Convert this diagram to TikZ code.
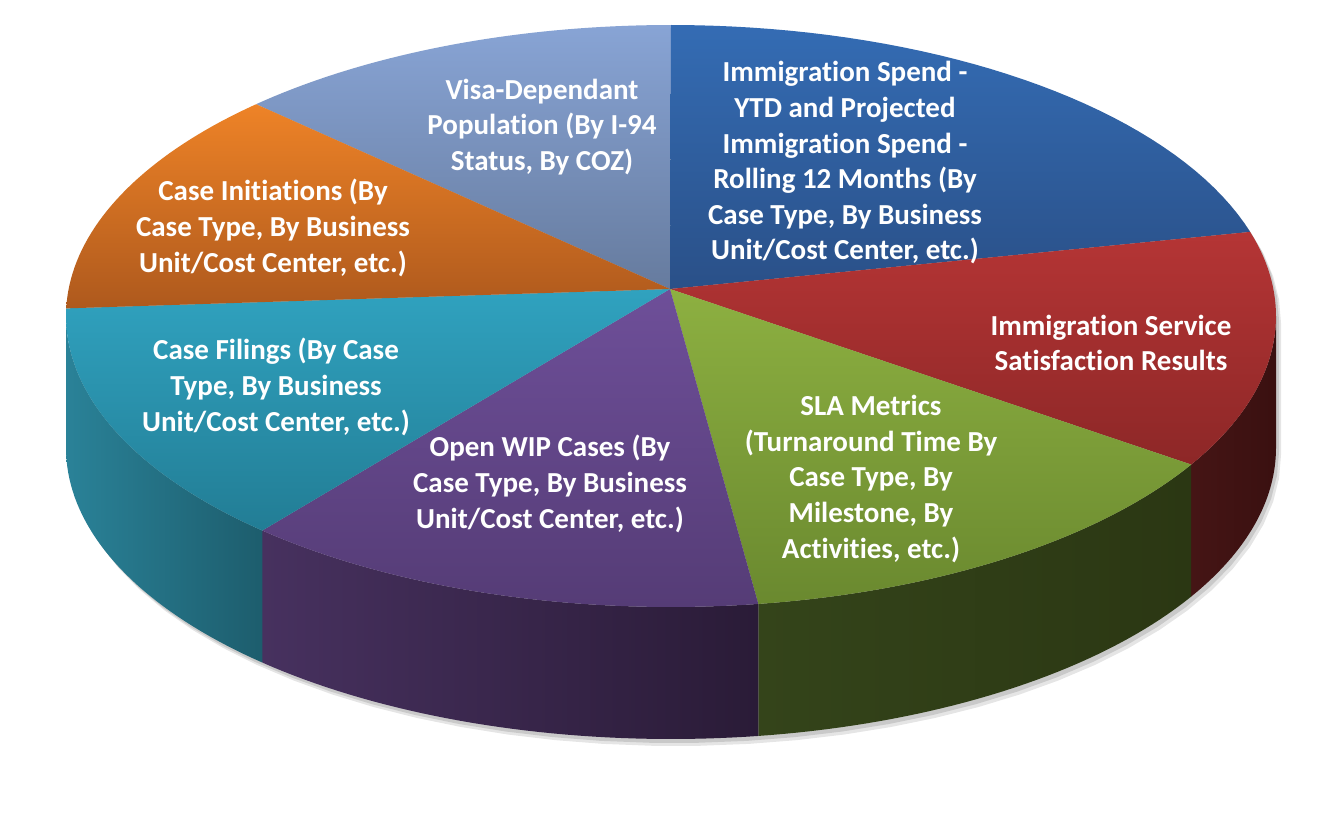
\documentclass[tikz,border=0pt]{standalone}
\usepackage{fontspec}
\setmainfont{Carlito}[Ligatures=NoCommon]
\definecolor{lblueT}{HTML}{88A4D5}\definecolor{lblueB}{HTML}{667B9E}
\definecolor{dblueT}{HTML}{346CB4}\definecolor{dblueB}{HTML}{2A5088}
\definecolor{redT}{HTML}{B53535}\definecolor{redB}{HTML}{8D2727}
\definecolor{greenT}{HTML}{8DB041}\definecolor{greenB}{HTML}{6A892F}
\definecolor{purpT}{HTML}{6E4F99}\definecolor{purpB}{HTML}{553C76}
\definecolor{cyanT}{HTML}{30A2BF}\definecolor{cyanB}{HTML}{227D95}
\definecolor{oranT}{HTML}{EE8327}\definecolor{oranB}{HTML}{AE591D}
\definecolor{redSL}{HTML}{451515}\definecolor{redSR}{HTML}{3A1010}
\definecolor{greenSL}{HTML}{34441A}\definecolor{greenSR}{HTML}{2B3713}
\definecolor{purpSL}{HTML}{47315F}\definecolor{purpSR}{HTML}{2A1B37}
\definecolor{cyanSL}{HTML}{2A8298}\definecolor{cyanSR}{HTML}{1D5D6D}
\def\cx{671}\def\cy{316}\def\rx{605}\def\ry{291}\def\dep{132}
\tikzset{
  lbl/.style={text=white, font=\bfseries\fontsize{29}{35.6}\selectfont, align=center, inner sep=0pt},
  tarc/.style 2 args={insert path={plot[domain=#1:#2,samples=40,variable=\t]({\cx+\rx*cos(\t)},{\cy+\ry*sin(\t)})}},
  tarcL/.style 2 args={insert path={-- plot[domain=#1:#2,samples=40,variable=\t]({\cx+\rx*cos(\t)},{\cy+\ry*sin(\t)})}},
  barcL/.style 2 args={insert path={-- plot[domain=#1:#2,samples=40,variable=\t]({\cx+\rx*cos(\t)},{\cy+\dep+\ry*sin(\t)})}},
}
\begin{document}
\begin{tikzpicture}[x=1pt,y=-1pt]
\useasboundingbox (0,0) rectangle (1332,837);
\fill[white] (0,0) rectangle (1332,837);
\coordinate (c) at (670,289);
% soft shadow
\begin{scope}[shift={(5,7)}]
\fill[black, opacity=0.10] [tarc={180}{360}, barcL={0}{180}] -- cycle;
\end{scope}
\begin{scope}[shift={(3,4)}]
\fill[black, opacity=0.12] [tarc={180}{360}, barcL={0}{180}] -- cycle;
\end{scope}
% side faces
\shade[left color=redSL, right color=redSR] [tarc={0}{30.7}, barcL={30.7}{0}] -- cycle;
\shade[left color=greenSL, right color=greenSR] [tarc={30.7}{81.7}, barcL={81.7}{30.7}] -- cycle;
\shade[left color=purpSL, right color=purpSR] [tarc={81.7}{132.5}, barcL={132.5}{81.7}] -- cycle;
\shade[left color=cyanSL, right color=cyanSR] [tarc={132.5}{180}, barcL={180}{132.5}] -- cycle;
% top faces
\shade[top color=lblueT, bottom color=lblueB] (c) [tarcL={226.7}{270}] -- cycle;
\shade[top color=dblueT, bottom color=dblueB] (c) [tarcL={270}{343.2}] -- cycle;
\shade[top color=redT, bottom color=redB] (c) [tarcL={-16.8}{30.7}] -- cycle;
\shade[top color=greenT, bottom color=greenB] (c) [tarcL={30.7}{81.7}] -- cycle;
\shade[top color=purpT, bottom color=purpB] (c) [tarcL={81.7}{132.5}] -- cycle;
\shade[top color=cyanT, bottom color=cyanB] (c) [tarcL={132.5}{181.5}] -- cycle;
\shade[top color=oranT, bottom color=oranB] (c) [tarcL={181.5}{226.7}] -- cycle;
% labels
\node[lbl] (visa) at (542,127) {Visa-Dependant\\Population (By I-94\\Status, By COZ)};
\node[lbl] (spend) at (845,163) {Immigration Spend -\\YTD and Projected\\Immigration Spend -\\Rolling 12 Months (By\\Case Type, By Business\\Unit/Cost Center, etc.)};
\node[lbl] (init) at (273,228) {Case Initiations (By\\Case Type, By Business\\Unit/Cost Center, etc.)};
\node[lbl] (serv) at (1111,343) {Immigration Service\\Satisfaction Results};
\node[lbl] (fil) at (276,387) {Case Filings (By Case\\Type, By Business\\Unit/Cost Center, etc.)};
\node[lbl] (wip) at (550,484) {Open WIP Cases (By\\Case Type, By Business\\Unit/Cost Center, etc.)};
\node[lbl] (sla) at (871,479) {SLA Metrics\\(Turnaround Time By\\Case Type, By\\Milestone, By\\Activities, etc.)};
\end{tikzpicture}
\end{document}
